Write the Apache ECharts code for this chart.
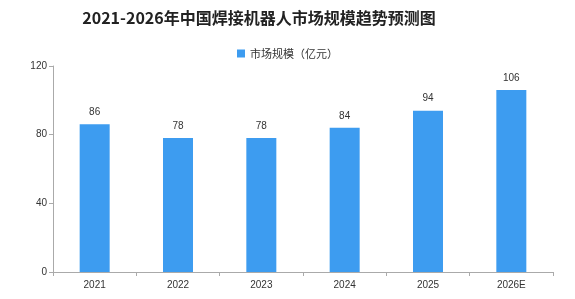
<!DOCTYPE html>
<html>
<head>
<meta charset="utf-8">
<script src="https://cdn.jsdelivr.net/npm/echarts@6/dist/echarts.min.js"></script>
<style>
html, body { margin: 0; padding: 0; background: #fff; }
#chart { width: 575px; height: 299px; }
</style>
</head>
<body>
<div id="chart"></div>
<script>
// data
const years = ['2021', '2022', '2023', '2024', '2025', '2026E'];
const marketSize = [86, 78, 78, 84, 94, 106];
const seriesName = '市场规模（亿元）';

const chart = echarts.init(document.getElementById('chart'));

chart.setOption({
    animation: false,
    title: {
        text: '2021-2026年中国焊接机器人市场规模趋势预测图',
        left: 254,
        textAlign: 'center',
        top: 5,
        textStyle: {
            fontFamily: 'Noto Sans CJK SC',
            fontSize: 16,
            fontWeight: 'bold',
            color: '#222'
        }
    },
    legend: {
        data: [seriesName],
        top: 43,
        left: 'center',
        icon: 'rect',
        itemWidth: 8,
        itemHeight: 8,
        itemGap: 4,
        textStyle: { fontFamily: 'Noto Sans CJK SC', fontSize: 11, color: '#333' }
    },
    grid: { left: 53, right: 22, top: 66, bottom: 27 },
    xAxis: {
        type: 'category',
        data: years,
        axisLine: { lineStyle: { color: '#aaa' } },
        axisTick: { show: true, alignWithLabel: false, length: 4, lineStyle: { color: '#aaa' } },
        axisLabel: { color: '#333', fontSize: 10, margin: 8 }
    },
    yAxis: {
        type: 'value',
        min: 0,
        max: 120,
        interval: 40,
        splitLine: { show: false },
        axisLine: { show: true, lineStyle: { color: '#aaa' } },
        axisTick: { show: true, length: 4, lineStyle: { color: '#aaa' } },
        axisLabel: { color: '#333', fontSize: 10, margin: 6 }
    },
    series: [{
        name: seriesName,
        type: 'bar',
        data: marketSize,
        barWidth: 30,
        itemStyle: { color: '#3d9cf0' },
        label: {
            show: true,
            position: 'top',
            distance: 7,
            color: '#333',
            fontSize: 10
        }
    }]
});
</script>
</body>
</html>
